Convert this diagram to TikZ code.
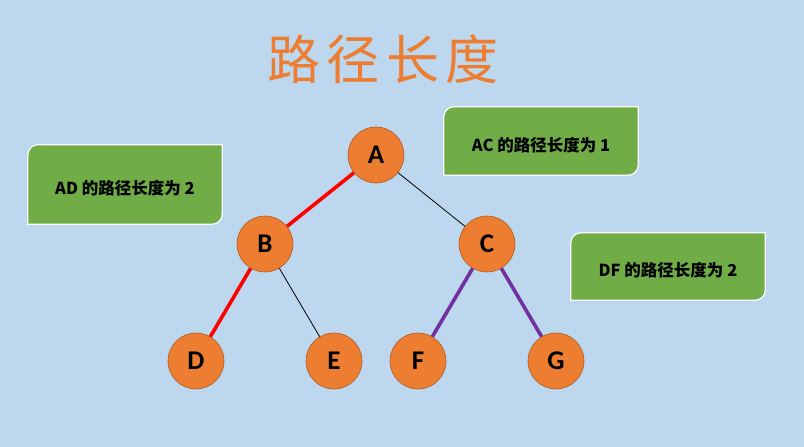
\documentclass[tikz,border=0pt]{standalone}
\usepackage{fontspec}
\setmainfont{Carlito}
\newfontfamily\cjkfont{Noto Sans CJK SC}
\newfontfamily\titlefont[LetterSpace=12]{Noto Sans CJK SC}
\usetikzlibrary{backgrounds}

\definecolor{bgblue}{HTML}{BDD7EE}
\definecolor{nodeorange}{HTML}{ED7D31}
\definecolor{nodeline}{HTML}{AE5A21}
\definecolor{boxgreen}{HTML}{70AD47}
\definecolor{pathpurple}{HTML}{7030A0}

\tikzset{
  treenode/.style={circle, fill=nodeorange, draw=nodeline, line width=0.6pt,
    minimum size=56pt, inner sep=0pt, font=\fontsize{27}{27}\selectfont\bfseries},
  lenbox/.style={minimum width=194pt, inner sep=0pt, text height=20pt, text depth=0pt,
    font=\cjkfont\bfseries\fontsize{16.5}{16.5}\selectfont},
  boxline/.style={fill=boxgreen, draw=white, line width=1.2pt},
  redpath/.style={draw=red, line width=3.6pt},
  purplepath/.style={draw=pathpurple, line width=3.6pt},
  thinpath/.style={draw=black, line width=0.8pt}
}

% green box with two round corners (top left, bottom right)
\newcommand{\lenframe}[1]{%
  \draw[boxline] (#1.south west) -- ([yshift=-10pt]#1.north west)
    arc[start angle=180, end angle=90, radius=10pt] -- (#1.north east)
    -- ([yshift=10pt]#1.south east)
    arc[start angle=0, end angle=-90, radius=10pt] -- cycle;}

\begin{document}
\begin{tikzpicture}[x=1pt, y=1pt,
    level 1/.style={sibling distance=222pt, level distance=89pt},
    level 2/.style={sibling distance=138pt, level distance=117pt, xshift=-4pt}]
  \useasboundingbox (0,0) rectangle (804,-447);

  % title
  \node (title) at (383,-59) {\titlefont\fontsize{53}{53}\selectfont\color{nodeorange}路径长度};

  % tree
  \node[treenode] (a) at (376,-155) {A}
    child {node[treenode] (b) {B}
      child {node[treenode] (d) {D} edge from parent[redpath]}
      child {node[treenode] (e) {E} edge from parent[thinpath]}
      edge from parent[redpath]}
    child {node[treenode] (c) {C}
      child {node[treenode] (f) {F} edge from parent[purplepath]}
      child {node[treenode] (g) {G} edge from parent[purplepath]}
      edge from parent[thinpath]};

  % notes
  \node[lenbox, minimum height=79pt] (ad) at (125,-184.5) {AD 的路径长度为 2};
  \node[lenbox, minimum height=68pt] (ac) at (541,-141) {AC 的路径长度为 1};
  \node[lenbox, minimum height=67pt] (df) at (668,-266.5) {DF 的路径长度为 2};

  \begin{pgfonlayer}{background}
    \fill[bgblue] (0,0) rectangle (804,-447);
    \lenframe{ad}
    \lenframe{ac}
    \lenframe{df}
  \end{pgfonlayer}
\end{tikzpicture}
\end{document}
